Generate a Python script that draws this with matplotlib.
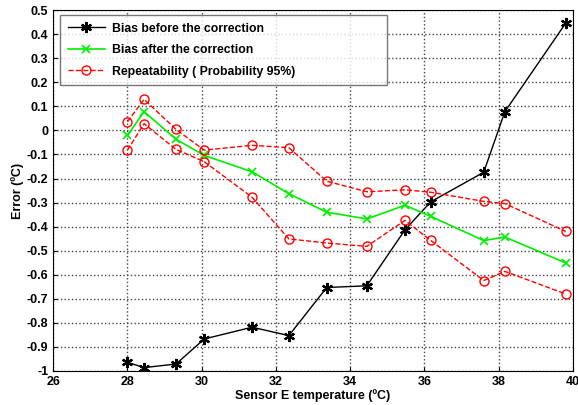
import matplotlib.pyplot as plt

plt.rcParams['font.family'] = ['Liberation Sans', 'DejaVu Sans']
plt.rcParams['font.weight'] = 'bold'

# Sensor E temperature (ºC)
temps = [28.0, 28.45, 29.31, 30.07, 31.36, 32.35, 33.37, 34.45, 35.48, 36.17, 37.6, 38.17, 39.81]

bias_before = [-0.964, -0.986, -0.971, -0.867, -0.818, -0.853, -0.653, -0.646, -0.413,
               -0.297, -0.174, 0.078, 0.446]
bias_after = [-0.021, 0.078, -0.037, -0.104, -0.172, -0.263, -0.340, -0.368, -0.311,
              -0.357, -0.458, -0.443, -0.551]
rep_upper = [0.036, 0.129, 0.004, -0.082, -0.062, -0.072, -0.211, -0.255, -0.247,
             -0.257, -0.295, -0.304, -0.420]
rep_lower = [-0.082, 0.028, -0.079, -0.130, -0.278, -0.451, -0.468, -0.482, -0.374,
             -0.457, -0.624, -0.586, -0.680]

fig = plt.figure(figsize=(5.78, 4.05), dpi=100)
ax = fig.add_axes([0.092, 0.084, 0.899, 0.891])

asterisk = (6, 2, 0)
ax.plot(temps, bias_before, color='black', lw=1, marker=asterisk, ms=8, mew=1.6,
        label='Bias before the correction')
ax.plot(temps, bias_after, color='#00ee00', lw=1.2, marker='x', ms=6, mew=1.2,
        label='Bias after the correction')
ax.plot(temps, rep_upper, color='red', lw=1, ls='--', marker='o', ms=6.5,
        mfc='none', label='Repeatability ( Probability 95%)')
ax.plot(temps, rep_lower, color='red', lw=1, ls='--', marker='o', ms=6.5, mfc='none')

ax.set_xlim(26, 40)
ax.set_ylim(-1, 0.5)
ax.set_xticks(range(26, 41, 2))
ax.set_yticks([i / 10 for i in range(-10, 6)])
ax.set_yticklabels(['-1', '-0.9', '-0.8', '-0.7', '-0.6', '-0.5', '-0.4', '-0.3', '-0.2',
                    '-0.1', '0', '0.1', '0.2', '0.3', '0.4', '0.5'])
ax.tick_params(labelsize=9, direction='in', length=3)
ax.grid(True, ls=':', color='#444444', lw=1.0)

ax.set_xlabel('Sensor E temperature (ºC)', fontsize=9, fontweight='bold', labelpad=1)
ax.set_ylabel('Error (ºC)', fontsize=9, fontweight='bold', labelpad=2)

leg = ax.legend(loc='upper left', bbox_to_anchor=(0.0135, 0.789, 0.629, 0.197),
                mode='expand', borderaxespad=0, fontsize=8.8, frameon=True,
                fancybox=False, edgecolor='#555555', borderpad=0.6,
                labelspacing=0.78, handlelength=3.1, handletextpad=0.5)
leg.get_frame().set_linewidth(1.0)
for t in leg.get_texts():
    t.set_fontweight('bold')

plt.savefig('out.png', dpi=100)
